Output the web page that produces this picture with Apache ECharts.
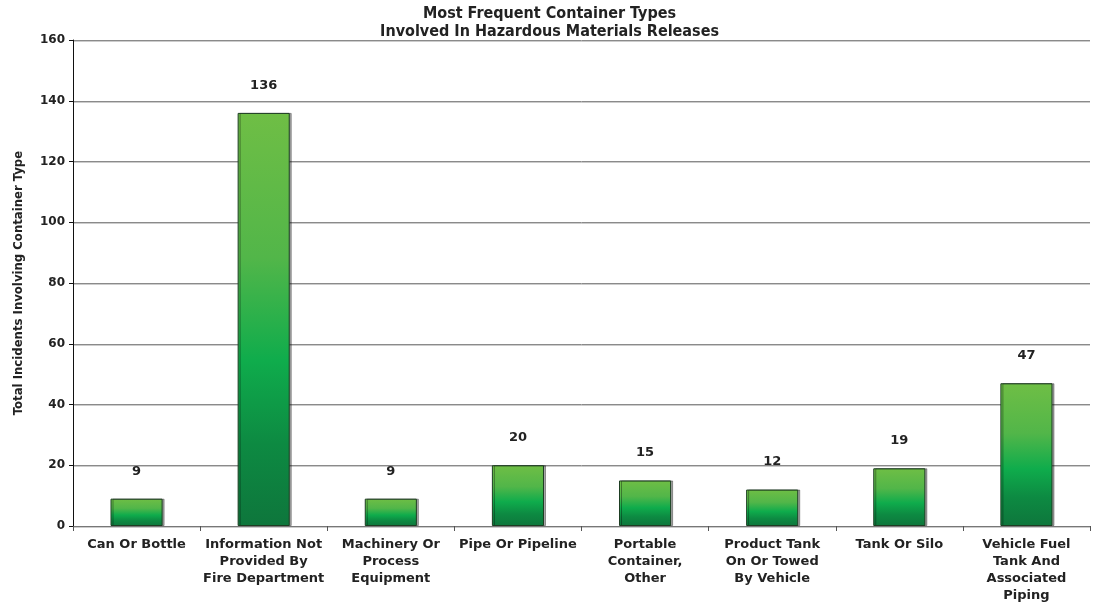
<!DOCTYPE html>
<html>
<head>
<meta charset="utf-8">
<script src="https://cdn.jsdelivr.net/npm/echarts@6/dist/echarts.min.js"></script>
<style>
  html, body { margin: 0; padding: 0; background: #fff; }
  #chart { width: 1099px; height: 602px; }
</style>
</head>
<body>
<div id="chart"></div>
<script>
var categories = [
    'Can Or Bottle',
    'Information Not\nProvided By\nFire Department',
    'Machinery Or\nProcess\nEquipment',
    'Pipe Or Pipeline',
    'Portable\nContainer,\nOther',
    'Product Tank\nOn Or Towed\nBy Vehicle',
    'Tank Or Silo',
    'Vehicle Fuel\nTank And\nAssociated\nPiping'
];
var counts = [9, 136, 9, 20, 15, 12, 19, 47];

var narrow = '"DejaVu Sans Condensed", "Liberation Sans Narrow", sans-serif';
var wide = '"DejaVu Sans", Verdana, sans-serif';

var chart = echarts.init(document.getElementById('chart'));

// green gradient, dark at the base, bright in the middle, lighter on top
var barFill = new echarts.graphic.LinearGradient(0, 0, 0, 1, [
    { offset: 0, color: '#6fbe45' },
    { offset: 0.35, color: '#52b649' },
    { offset: 0.6, color: '#0fac4c' },
    { offset: 0.8, color: '#0d8a42' },
    { offset: 1, color: '#0e763c' }
]);

var option = {
    animation: false,
    title: {
        text: 'Most Frequent Container Types\nInvolved In Hazardous Materials Releases',
        left: 'center',
        top: 0,
        textStyle: {
            fontFamily: narrow,
            fontSize: 16,
            fontWeight: 'bold',
            color: '#222',
            lineHeight: 18
        }
    },
    grid: {
        left: 73,
        right: 9,
        top: 40,
        bottom: 76,
        outerBoundsMode: 'none'
    },
    xAxis: {
        type: 'category',
        data: categories,
        axisLine: { lineStyle: { color: '#777', width: 1 } },
        axisTick: { show: true, length: 5, lineStyle: { color: '#555' } },
        axisLabel: {
            interval: 0,
            margin: 10,
            fontFamily: wide,
            fontWeight: 'bold',
            fontSize: 13,
            color: '#222',
            lineHeight: 17
        }
    },
    yAxis: {
        type: 'value',
        min: 0,
        max: 160,
        interval: 20,
        name: 'Total Incidents Involving Container Type',
        nameLocation: 'middle',
        nameGap: 48,
        nameTextStyle: {
            fontFamily: narrow,
            fontWeight: 'bold',
            fontSize: 13,
            color: '#222'
        },
        axisLine: { show: true, lineStyle: { color: '#111', width: 1 } },
        axisTick: { show: true, length: 4, lineStyle: { color: '#111' } },
        axisLabel: {
            margin: 8,
            fontFamily: wide,
            fontWeight: 'bold',
            fontSize: 12,
            color: '#222'
        },
        splitLine: {
            lineStyle: {
                color: '#8a8a8a',
                width: 1,
                shadowColor: 'rgba(0,0,0,0.2)',
                shadowOffsetY: 1
            }
        }
    },
    series: [{
        type: 'bar',
        data: counts,
        barWidth: '41%',
        itemStyle: {
            color: barFill,
            borderColor: '#1d3d22',
            borderWidth: 1,
            shadowColor: 'rgba(0,0,0,0.35)',
            shadowOffsetX: 2,
            shadowOffsetY: 0,
            shadowBlur: 0
        },
        label: {
            show: true,
            position: 'top',
            distance: 21,
            fontFamily: wide,
            fontWeight: 'bold',
            fontSize: 13,
            color: '#222'
        }
    }]
};

chart.setOption(option);
</script>
</body>
</html>
